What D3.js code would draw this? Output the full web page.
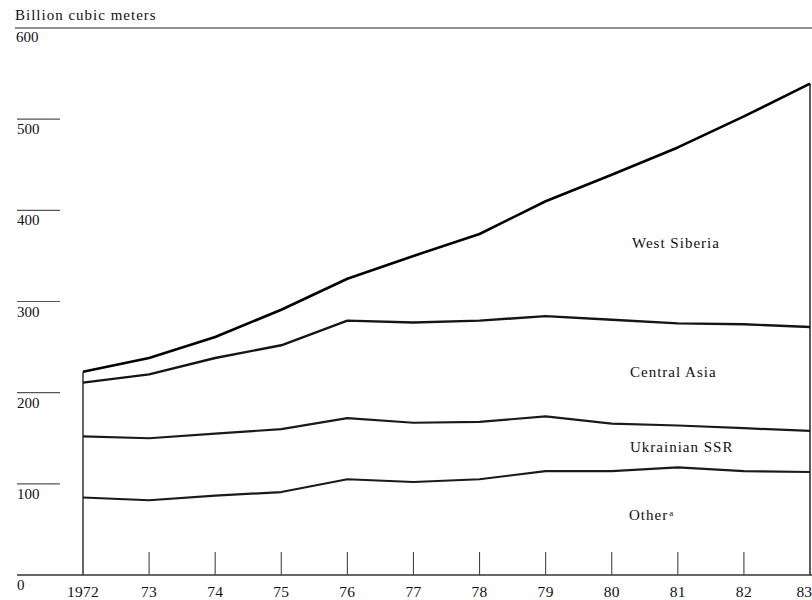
<!DOCTYPE html>
<html>
<head>
<meta charset="utf-8">
<script src="https://cdn.jsdelivr.net/npm/d3@7"></script>
<style>
  html, body { margin: 0; padding: 0; background: #fff; }
  svg { display: block; font-family: "Liberation Serif", "Times New Roman", serif; }
</style>
</head>
<body>
<svg id="chart" width="812" height="600"></svg>
<script>
// ---- data (billion cubic meters) ----
const years = [1972, 1973, 1974, 1975, 1976, 1977, 1978, 1979, 1980, 1981, 1982, 1983];
const yearLabels = ["1972", "73", "74", "75", "76", "77", "78", "79", "80", "81", "82", "83"];
const other       = [85, 82, 87, 91, 105, 102, 105, 114, 114, 118, 114, 113];
const ukrainian   = [67, 68, 68, 69, 67, 65, 63, 60, 52, 46, 47, 45];
const centralAsia = [59, 70, 83, 92, 107, 110, 111, 110, 114, 112, 114, 114];
const westSiberia = [12, 18, 23, 39, 46, 73, 95, 126, 159, 193, 228, 267];
const seriesKeys  = ["other", "ukrainian", "centralAsia", "westSiberia"];
const seriesNames = ["Other", "Ukrainian SSR", "Central Asia", "West Siberia"];
const yTicks = [100, 200, 300, 400, 500];
const yTickLabels = ["100", "200", "300", "400", "500"];
const yTopLabel = "600";
const yZeroLabel = "0";
const titleText = "Billion cubic meters";

(function () {
const table = years.map((yr, i) => ({
  year: yr, other: other[i], ukrainian: ukrainian[i],
  centralAsia: centralAsia[i], westSiberia: westSiberia[i]
}));

const svg = d3.select("#chart");
const x = d3.scaleLinear().domain([1972, 1983]).range([83, 810]);
const y = d3.scaleLinear().domain([0, 600]).range([575, 28]);

const stacked = d3.stack().keys(seriesKeys)(table);

// title
svg.append("text").attr("x", 15).attr("y", 20)
  .attr("font-size", 15).attr("letter-spacing", 1).attr("fill", "#111")
  .text(titleText);

// top rule at 600
svg.append("line").attr("x1", 15).attr("x2", 812)
  .attr("y1", y(600)).attr("y2", y(600))
  .attr("stroke", "#222").attr("stroke-width", 1.1);
svg.append("text").attr("x", 16).attr("y", y(600) + 14)
  .attr("font-size", 15).attr("fill", "#111").text(yTopLabel);

// y tick lines + labels
yTicks.forEach((t, i) => {
  svg.append("line").attr("x1", 17).attr("x2", 60)
    .attr("y1", y(t)).attr("y2", y(t))
    .attr("stroke", "#555").attr("stroke-width", 1.1);
  svg.append("text").attr("x", 17).attr("y", y(t) + 15)
    .attr("font-size", 15).attr("fill", "#111").text(yTickLabels[i]);
});

// x axis baseline
svg.append("line").attr("x1", 17).attr("x2", 812)
  .attr("y1", y(0)).attr("y2", y(0))
  .attr("stroke", "#333").attr("stroke-width", 1.4);
svg.append("text").attr("x", 17).attr("y", y(0) + 15)
  .attr("font-size", 15).attr("fill", "#111").text(yZeroLabel);

// x ticks and labels
years.forEach((yr, i) => {
  const last = i === years.length - 1;
  if (i > 0 && !last) {
    svg.append("line").attr("x1", x(yr)).attr("x2", x(yr))
      .attr("y1", y(0) - 23).attr("y2", y(0))
      .attr("stroke", "#444").attr("stroke-width", 1.1);
  }
  svg.append("text").attr("x", last ? 812 : x(yr)).attr("y", 597)
    .attr("text-anchor", last ? "end" : "middle").attr("font-size", 15.5)
    .attr("letter-spacing", last ? 0 : 0.3).attr("fill", "#111")
    .text(yearLabels[i]);
});

// side edges of the stack
const topSeries = stacked[stacked.length - 1];
svg.append("line").attr("x1", x(years[0])).attr("x2", x(years[0]))
  .attr("y1", y(topSeries[0][1])).attr("y2", y(0))
  .attr("stroke", "#333").attr("stroke-width", 1.5);
svg.append("line").attr("x1", x(years[years.length - 1])).attr("x2", x(years[years.length - 1]))
  .attr("y1", y(topSeries[topSeries.length - 1][1])).attr("y2", y(0))
  .attr("stroke", "#333").attr("stroke-width", 1.6);

// stacked boundary lines
const line = d3.line().x(d => x(d.data.year)).y(d => y(d[1]));
const widths = [2.2, 2.2, 2.4, 2.6];
const colors = ["#1a1a1a", "#1a1a1a", "#151515", "#000"];
stacked.forEach((s, i) => {
  svg.append("path").datum(s).attr("d", line)
    .attr("fill", "none").attr("stroke", colors[i])
    .attr("stroke-width", widths[i]).attr("stroke-linejoin", "round");
});

// area labels
const labelPos = [
  { x: 629, y: 520 },
  { x: 630, y: 452 },
  { x: 630, y: 377 },
  { x: 632, y: 248 }
];
seriesNames.forEach((name, i) => {
  const t = svg.append("text").attr("x", labelPos[i].x).attr("y", labelPos[i].y)
    .attr("font-size", 15).attr("letter-spacing", 1).attr("fill", "#111")
    .text(name);
  if (i === 0) {
    t.append("tspan").attr("font-size", 9).attr("dx", 1).attr("dy", -4).text("a");
  }
});
})();
</script>
</body>
</html>
